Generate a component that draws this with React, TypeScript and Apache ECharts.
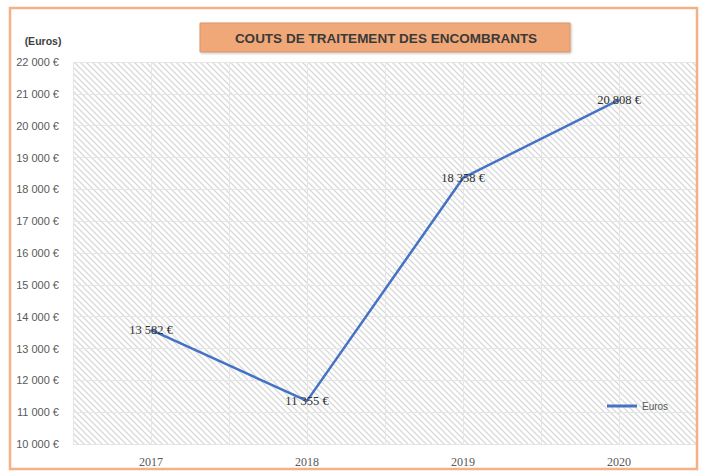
import React, { useEffect, useRef } from "react";
import * as echarts from "echarts";

const categories = ["2017", "2018", "2019", "2020"];
const values = [13582, 11355, 18358, 20808];
const seriesName = "Euros";
const titleText = "COUTS DE TRAITEMENT DES ENCOMBRANTS";
const unitText = "(Euros)";
const halfCategories = ["a", "b", "c", "d", "e", "f", "g", "h"];

function fmt(v: number): string {
  const s = Math.round(v).toString();
  return s.replace(/\B(?=(\d{3})+(?!\d))/g, " ") + " €";
}

function makeHatch(): HTMLCanvasElement {
  const c = document.createElement("canvas");
  const n = 6;
  c.width = n;
  c.height = n;
  const ctx = c.getContext("2d")!;
  ctx.fillStyle = "#ffffff";
  ctx.fillRect(0, 0, n, n);
  ctx.strokeStyle = "#d9d9d9";
  ctx.lineWidth = 1.3;
  ctx.beginPath();
  ctx.moveTo(-1, -1);
  ctx.lineTo(n + 1, n + 1);
  ctx.moveTo(-1, n - 1);
  ctx.lineTo(1, n + 1);
  ctx.moveTo(n - 1, -1);
  ctx.lineTo(n + 1, 1);
  ctx.stroke();
  return c;
}

export default function App() {
  const ref = useRef<HTMLDivElement>(null);
  useEffect(() => {
    if (!ref.current) return;
    const chart = echarts.init(ref.current, null, { renderer: "svg" });
    const hatch = makeHatch();
    chart.setOption({
      animation: false,
      backgroundColor: "#ffffff",
      grid: {
        show: true,
        left: 73,
        right: 4,
        top: 62,
        bottom: 28,
        borderWidth: 0,
        backgroundColor: { image: hatch, repeat: "repeat" },
      },
      graphic: [
        {
          type: "rect",
          shape: { x: 10, y: 8, width: 687, height: 461 },
          style: { fill: "none", stroke: "#F4B183", lineWidth: 2.5 },
          z: 100,
        },
        {
          type: "rect",
          shape: { x: 200, y: 23, width: 370, height: 29 },
          style: {
            fill: "#F0A878",
            stroke: "#D9956A",
            lineWidth: 1,
            shadowBlur: 2,
            shadowColor: "rgba(0,0,0,0.25)",
            shadowOffsetX: 1,
            shadowOffsetY: 1,
          },
          z: 100,
        },
        {
          type: "text",
          x: 386,
          y: 38,
          style: {
            text: titleText,
            align: "center",
            verticalAlign: "middle",
            fill: "#3a3a3a",
            font: "bold 13.5px 'Liberation Sans', Arial, sans-serif",
          },
          z: 101,
        },
        {
          type: "text",
          x: 43,
          y: 41,
          style: {
            text: unitText,
            align: "center",
            verticalAlign: "middle",
            fill: "#404040",
            font: "bold 10.5px 'Liberation Sans', Arial, sans-serif",
          },
          z: 101,
        },
      ],
      legend: {
        left: 602,
        top: 396,
        icon: "rect",
        itemWidth: 30,
        itemHeight: 3,
        itemGap: 4,
        textStyle: {
          color: "#595959",
          fontSize: 10,
          fontFamily: "'Liberation Sans', Arial, sans-serif",
        },
        data: [seriesName],
      },
      xAxis: [
        {
          type: "category",
          data: categories,
          boundaryGap: true,
          axisLine: { show: false },
          axisTick: { show: false },
          axisLabel: {
            margin: 12,
            color: "#595959",
            fontSize: 12,
            fontFamily: "'Liberation Serif', 'Times New Roman', serif",
          },
          splitLine: { show: false },
        },
        {
          type: "category",
          data: halfCategories,
          boundaryGap: true,
          position: "bottom",
          axisLine: { show: false },
          axisTick: { show: false },
          axisLabel: { show: false },
          splitLine: { show: true, lineStyle: { color: "#e6e6e6", width: 1 } },
        },
      ],
      yAxis: {
        type: "value",
        min: 10000,
        max: 22000,
        interval: 1000,
        axisLine: { show: false },
        axisTick: { show: false },
        axisLabel: {
          margin: 14,
          color: "#595959",
          fontSize: 11,
          fontFamily: "'Liberation Sans', Arial, sans-serif",
          formatter: (v: number) => fmt(v),
        },
        splitLine: { show: true, lineStyle: { color: "#e6e6e6", width: 1 } },
      },
      series: [
        {
          name: seriesName,
          type: "line",
          data: values,
          xAxisIndex: 0,
          showSymbol: true,
          symbol: "circle",
          symbolSize: 1,
          lineStyle: { color: "#4472C4", width: 2.5 },
          itemStyle: { color: "#4472C4" },
          label: {
            show: true,
            position: "inside",
            color: "#303030",
            fontSize: 12.5,
            fontFamily: "'Liberation Serif', 'Times New Roman', serif",
            formatter: (p: any) => fmt(p.value),
          },
          z: 5,
        },
      ],
    });
    return () => chart.dispose();
  }, []);
  return (
    <div
      ref={ref}
      style={{ position: "fixed", left: 0, top: 0, width: 701, height: 472 }}
    />
  );
}
